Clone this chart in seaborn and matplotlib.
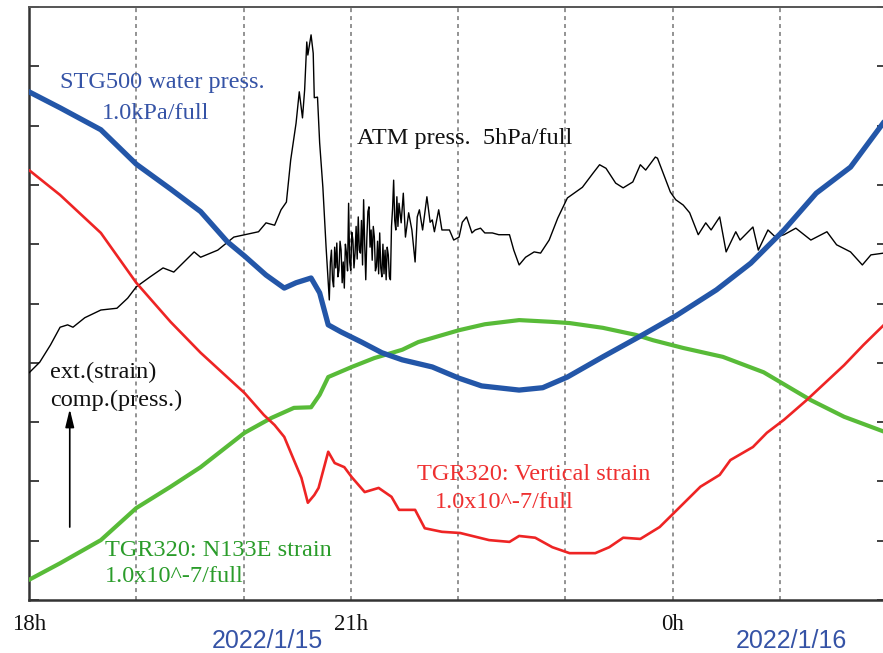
import matplotlib
matplotlib.use("Agg")
import matplotlib.pyplot as plt
import seaborn as sns
import pandas as pd

# ---------------- data (hours after 18h, y in full-scale divisions 0..10) -------------
stg_hours = [0.00, 0.29, 0.67, 1.00, 1.32, 1.60, 1.85, 2.01, 2.21, 2.38, 2.49, 2.63, 2.71,
             2.79, 2.91, 3.10, 3.29, 3.48, 3.76, 4.01, 4.22, 4.57, 4.79, 5.02, 5.35, 5.72,
             6.03, 6.41, 6.73, 7.04, 7.34, 7.66, 8.00]
stg_values = [8.57, 8.30, 7.93, 7.35, 6.93, 6.55, 6.04, 5.80, 5.48, 5.26, 5.35, 5.43, 5.18,
              4.64, 4.52, 4.35, 4.17, 4.05, 3.93, 3.74, 3.61, 3.54, 3.58, 3.76, 4.10, 4.47,
              4.79, 5.23, 5.68, 6.24, 6.86, 7.30, 8.13]

vert_hours = [0.00, 0.29, 0.67, 1.00, 1.32, 1.60, 2.01, 2.19, 2.29, 2.38, 2.47, 2.54, 2.60,
              2.66, 2.70, 2.79, 2.85, 2.94, 3.01, 3.13, 3.26, 3.38, 3.45, 3.60, 3.69, 3.85,
              4.02, 4.29, 4.48, 4.57, 4.72, 4.88, 5.04, 5.28, 5.41, 5.54, 5.70, 5.88, 6.02,
              6.26, 6.44, 6.54, 6.75, 6.88, 7.04, 7.25, 7.60, 7.78, 8.00]
vert_values = [7.25, 6.83, 6.19, 5.35, 4.69, 4.17, 3.49, 3.12, 2.95, 2.75, 2.36, 2.06, 1.64,
               1.77, 1.89, 2.50, 2.31, 2.24, 2.07, 1.82, 1.89, 1.74, 1.52, 1.52, 1.21, 1.15,
               1.13, 1.01, 0.98, 1.08, 1.05, 0.89, 0.79, 0.79, 0.89, 1.05, 1.03, 1.23, 1.48,
               1.91, 2.11, 2.36, 2.58, 2.82, 3.04, 3.37, 3.96, 4.30, 4.69]

n133e_hours = [0.00, 0.29, 0.67, 1.00, 1.32, 1.60, 2.01, 2.26, 2.47, 2.63, 2.71, 2.79, 3.01,
               3.22, 3.48, 3.63, 4.01, 4.25, 4.57, 4.88, 5.04, 5.35, 5.66, 5.82, 6.10, 6.47,
               6.85, 7.29, 7.60, 8.00]
n133e_values = [0.34, 0.62, 1.01, 1.55, 1.91, 2.24, 2.82, 3.07, 3.24, 3.25, 3.46, 3.76, 3.93,
                4.08, 4.22, 4.35, 4.55, 4.65, 4.72, 4.69, 4.67, 4.59, 4.47, 4.38, 4.25, 4.10,
                3.84, 3.37, 3.09, 2.82]

atm_hours = [0.00, 0.10, 0.20, 0.29, 0.36, 0.41, 0.52, 0.67, 0.82, 0.92, 1.00, 1.13, 1.25,
             1.35, 1.54, 1.60, 1.76, 1.91, 2.14, 2.21, 2.29, 2.35, 2.40, 2.44, 2.49, 2.52,
             2.55, 2.57, 2.59, 2.60, 2.63, 2.65, 2.66, 2.69, 2.71, 2.74, 2.77,
             2.80, 2.81, 2.82, 2.83, 2.84, 2.85, 2.86, 2.87, 2.88, 2.89, 2.90, 2.91, 2.92,
             2.93, 2.94, 2.95, 2.96, 2.97, 2.98, 2.99, 3.00, 3.01, 3.02, 3.03, 3.04, 3.05,
             3.06, 3.07, 3.08, 3.09, 3.10, 3.11, 3.12, 3.13, 3.14, 3.15, 3.16, 3.17, 3.18,
             3.19, 3.20, 3.21, 3.22, 3.23, 3.24, 3.25, 3.26, 3.27, 3.28, 3.29, 3.30, 3.31,
             3.32, 3.33, 3.34, 3.35, 3.36, 3.37, 3.38, 3.39, 3.40, 3.41, 3.42, 3.43, 3.44,
             3.45, 3.47, 3.49, 3.51, 3.54, 3.57, 3.60, 3.62, 3.64, 3.67, 3.71, 3.74,
             3.76, 3.78, 3.82, 3.85, 3.92, 3.96, 4.01, 4.04, 4.08, 4.13, 4.16, 4.21, 4.25,
             4.32, 4.38, 4.48, 4.52, 4.57, 4.63, 4.71, 4.77, 4.85, 4.93, 5.02, 5.16, 5.26,
             5.32, 5.38, 5.47, 5.54, 5.63, 5.70, 5.75, 5.84, 5.86, 5.98, 6.03, 6.10, 6.16,
             6.24, 6.31, 6.36, 6.44, 6.50, 6.59, 6.63, 6.75, 6.80, 6.89, 6.96, 7.04, 7.15,
             7.29, 7.44, 7.53, 7.66, 7.77, 7.85, 7.97, 8.00]
atm_values = [3.83, 4.01, 4.30, 4.60, 4.64, 4.60, 4.76, 4.89, 4.92, 5.09, 5.28, 5.45, 5.60,
              5.53, 5.87, 5.78, 5.90, 6.12, 6.21, 6.36, 6.32, 6.58, 6.71, 7.42, 8.04, 8.57,
              8.13, 8.60, 9.41, 9.19, 9.53, 9.22, 8.47, 8.48, 7.71, 6.96, 5.95,
              5.06, 5.70, 5.90, 5.40, 5.28, 5.95, 5.60, 6.02, 5.45, 5.56, 6.05, 5.90, 5.35,
              5.70, 5.26, 6.00, 5.85, 5.55, 6.69, 5.70, 5.56, 6.20, 6.07, 5.60, 5.85, 6.30,
              5.75, 6.46, 5.90, 5.85, 6.40, 5.65, 6.75, 6.00, 5.40, 6.10, 6.55, 6.63, 5.95,
              6.24, 5.73, 6.30, 6.12, 5.55, 5.62, 6.05, 5.50, 6.19, 5.60, 5.45, 6.00, 5.50,
              5.90, 5.40, 5.95, 5.82, 5.45, 5.40, 6.30, 6.60, 7.08, 6.40, 6.24, 6.80, 6.30,
              6.69, 6.36, 6.86, 6.12, 6.53, 6.24, 5.70, 6.46, 6.58, 6.24, 6.80, 6.37,
              6.41, 6.21, 6.58, 6.24, 6.24, 6.07, 6.12, 6.37, 6.46, 6.19, 6.24, 6.27, 6.19,
              6.19, 6.16, 6.16, 5.90, 5.65, 5.78, 5.87, 5.85, 6.07, 6.44, 6.78, 6.96, 7.20,
              7.34, 7.28, 7.03, 6.95, 7.05, 7.34, 7.25, 7.47, 7.45, 6.88, 6.75, 6.66, 6.53,
              6.16, 6.36, 6.24, 6.46, 5.87, 6.21, 6.07, 6.29, 5.90, 6.24, 6.12, 6.16, 6.27,
              6.07, 6.21, 5.99, 5.87, 5.65, 5.82, 5.85, 5.90]

hour_ticks = [0, 3, 6]
hour_labels = ["18h", "21h", "0h"]
date_labels = ["2022/1/15", "2022/1/16"]
date_positions = [2.22, 7.11]

# ---------------- styling ----------------
sns.set_theme(style="white")
plt.rcParams["font.family"] = ["Liberation Serif", "DejaVu Serif"]

BLUE = "#2356A8"
RED = "#EE2424"
GREEN = "#58BB38"
BLUE_TXT = "#3553A6"
GREEN_TXT = "#2A9C2A"
RED_TXT = "#EE3030"

fig = plt.figure(figsize=(8.83, 6.53), dpi=100)
ax = fig.add_axes([29 / 883, 53 / 653, 858 / 883, 593 / 653])

ax.set_xlim(0, 8)
ax.set_ylim(0, 10)

for h in range(1, 8):
    ax.axvline(h, color="#8a8a8a", lw=1.3, ls=(0, (2.2, 2.2)), zorder=1)

atm_df = pd.DataFrame({"hour": atm_hours, "value": atm_values})
grn_df = pd.DataFrame({"hour": n133e_hours, "value": n133e_values})
red_df = pd.DataFrame({"hour": vert_hours, "value": vert_values})
blu_df = pd.DataFrame({"hour": stg_hours, "value": stg_values})

sns.lineplot(data=atm_df, x="hour", y="value", ax=ax, color="black", lw=1.0,
             estimator=None, zorder=3)
sns.lineplot(data=grn_df, x="hour", y="value", ax=ax, color=GREEN, lw=3.0,
             estimator=None, zorder=4)
sns.lineplot(data=red_df, x="hour", y="value", ax=ax, color=RED, lw=1.9,
             estimator=None, zorder=5)
sns.lineplot(data=blu_df, x="hour", y="value", ax=ax, color=BLUE, lw=3.8,
             estimator=None, zorder=6)

ax.set_xlabel("")
ax.set_ylabel("")

# ticks
ax.set_xticks(hour_ticks)
ax.set_xticklabels(hour_labels, fontsize=16.5, color="#111111")
ax.tick_params(axis="x", length=0, pad=10)
ax.set_yticks(range(0, 11))
ax.set_yticklabels([])
ax.tick_params(axis="y", direction="in", length=7, width=1.3, color="#333333",
               left=True, right=True)

for side in ["left", "bottom"]:
    ax.spines[side].set_color("#333333")
    ax.spines[side].set_linewidth(1.8)
ax.spines["top"].set_color("#555555")
ax.spines["top"].set_linewidth(1.4)
ax.spines["right"].set_visible(False)

# dates
for pos, lab in zip(date_positions, date_labels):
    ax.text(pos, -0.69, lab, ha="center", va="center", fontsize=18, color=BLUE_TXT,
            family=["Liberation Sans", "DejaVu Sans"], clip_on=False)

# annotations
fs = 17.5
ax.text(0.29, 8.72, "STG500 water press.", color=BLUE_TXT, fontsize=fs, va="center", ha="left")
ax.text(0.68, 8.20, "1.0kPa/full", color=BLUE_TXT, fontsize=fs, va="center", ha="left")
ax.text(3.06, 7.79, "ATM press.  5hPa/full", color="#111111", fontsize=fs, va="center", ha="left")
ax.text(0.20, 3.83, "ext.(strain)", color="#111111", fontsize=fs, va="center", ha="left")
ax.text(0.20, 3.36, "comp.(press.)", color="#111111", fontsize=fs, va="center", ha="left")
ax.text(0.71, 0.84, "TGR320: N133E strain", color=GREEN_TXT, fontsize=fs, va="center", ha="left")
ax.text(0.71, 0.40, "1.0x10^-7/full", color=GREEN_TXT, fontsize=fs, va="center", ha="left")
ax.text(3.62, 2.12, "TGR320: Vertical strain", color=RED_TXT, fontsize=fs, va="center", ha="left")
ax.text(3.78, 1.65, "1.0x10^-7/full", color=RED_TXT, fontsize=fs, va="center", ha="left")

ax.annotate("", xy=(0.38, 3.22), xytext=(0.38, 1.23),
            arrowprops=dict(arrowstyle="-|>,head_length=0.9,head_width=0.22",
                            color="black", lw=1.2, shrinkA=0, shrinkB=0))

fig.savefig("out.png", dpi=100)
